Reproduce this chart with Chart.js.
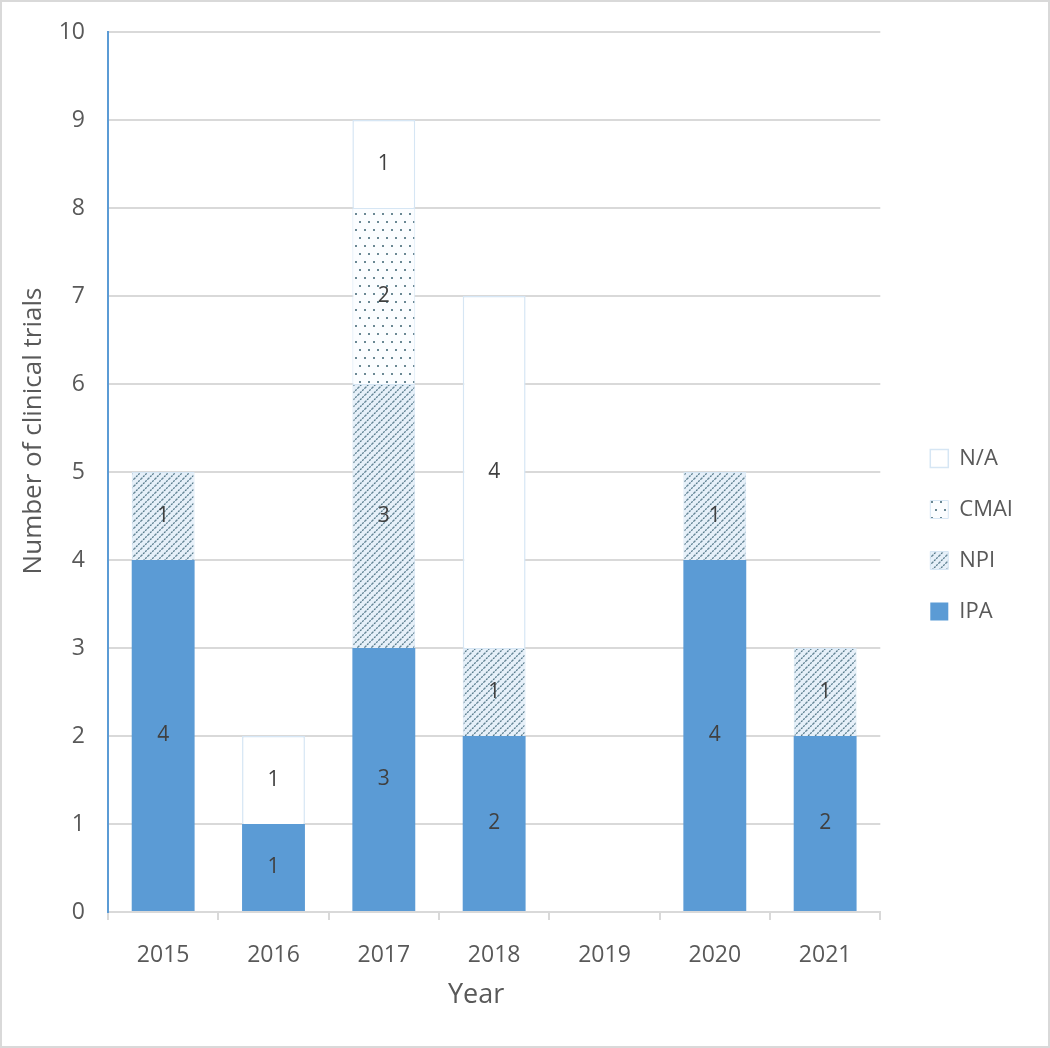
<!DOCTYPE html>
<html>
<head>
<meta charset="utf-8">
<script src="https://cdn.jsdelivr.net/npm/chart.js@4.4.0/dist/chart.umd.min.js"></script>
<style>
  html, body { margin: 0; padding: 0; background: #fff; }
  #wrap { width: 1050px; height: 1048px; box-sizing: border-box; border: 2px solid #d9d9d9; position: relative; }
</style>
</head>
<body>
<div id="wrap"><canvas id="chart"></canvas></div>
<script>
const years = ["2015","2016","2017","2018","2019","2020","2021"];
const ipa  = [4, 1, 3, 2, 0, 4, 2];
const npi  = [1, 0, 3, 1, 0, 1, 1];
const cmai = [0, 0, 2, 0, 0, 0, 0];
const na   = [0, 1, 1, 4, 0, 0, 0];
const xTitle = "Year";
const yTitle = "Number of clinical trials";

const textColor = "#595959";
const fontFamily = "'Open Sans', 'Liberation Sans', sans-serif";

function hatchPattern() {
  const c = document.createElement("canvas");
  c.width = 7; c.height = 7;
  const x = c.getContext("2d");
  x.fillStyle = "#e6f0f9";
  x.fillRect(0, 0, 7, 7);
  x.strokeStyle = "#55798a";
  x.lineWidth = 1.3;
  x.setLineDash([2, 1]);
  x.beginPath();
  x.moveTo(-1, 8); x.lineTo(8, -1);
  x.moveTo(-1, 1); x.lineTo(1, -1);
  x.moveTo(6, 8); x.lineTo(8, 6);
  x.stroke();
  return x.createPattern(c, "repeat");
}

function dotPattern() {
  const c = document.createElement("canvas");
  c.width = 9; c.height = 16;
  const x = c.getContext("2d");
  x.fillStyle = "#fbfdff";
  x.fillRect(0, 0, 9, 16);
  x.fillStyle = "#6a8894";
  x.fillRect(2, 3, 2, 2);
  x.fillRect(6, 11, 2, 2);
  return x.createPattern(c, "repeat");
}

// value labels in the middle of each segment
const segmentLabels = {
  id: "segmentLabels",
  afterDatasetsDraw(chart) {
    const ctx = chart.ctx;
    ctx.save();
    ctx.font = "21px " + fontFamily;
    ctx.fillStyle = "#404040";
    ctx.textAlign = "center";
    ctx.textBaseline = "middle";
    chart.data.datasets.forEach((ds, i) => {
      chart.getDatasetMeta(i).data.forEach((bar, j) => {
        const v = ds.data[j];
        if (!v) return;
        ctx.fillText(String(v), bar.x, (bar.y + bar.base) / 2);
      });
    });
    ctx.restore();
  }
};

// axis titles, placed off-centre like the original
const axisTitles = {
  id: "axisTitles",
  afterDraw(chart) {
    const { ctx, chartArea: a } = chart;
    ctx.save();
    ctx.fillStyle = textColor;
    ctx.textAlign = "center";
    ctx.textBaseline = "middle";
    ctx.font = "27px " + fontFamily;
    ctx.fillText(xTitle, (a.left + a.right) / 2 - 18, a.bottom + 83);
    ctx.font = "26px " + fontFamily;
    ctx.translate(32, (a.top + a.bottom) / 2 - 41);
    ctx.rotate(-Math.PI / 2);
    ctx.fillText(yTitle, 0, 0);
    ctx.restore();
  }
};

Chart.defaults.font.family = fontFamily;
Chart.defaults.color = textColor;

new Chart(document.getElementById("chart"), {
  type: "bar",
  data: {
    labels: years,
    datasets: [
      { label: "IPA", data: ipa, backgroundColor: "#5b9bd5", borderWidth: 0 },
      { label: "NPI", data: npi, backgroundColor: hatchPattern(), borderColor: "#d6e6f4", borderWidth: 1 },
      { label: "CMAI", data: cmai, backgroundColor: dotPattern(), borderColor: "#d6e6f4", borderWidth: 1 },
      { label: "N/A", data: na, backgroundColor: "#ffffff", borderColor: "#d6e6f4", borderWidth: 1.5 }
    ]
  },
  options: {
    responsive: true,
    maintainAspectRatio: false,
    animation: false,
    layout: { padding: { top: 30, right: 25, bottom: 35, left: 17 } },
    datasets: { bar: { categoryPercentage: 1, barPercentage: 0.57 } },
    plugins: {
      legend: {
        position: "right",
        reverse: true,
        title: { display: true, text: " ", padding: 0, font: { size: 22.5 } },
        labels: { boxWidth: 18, boxHeight: 18, padding: 29, font: { size: 22 }, color: textColor }
      },
      tooltip: { enabled: false }
    },
    scales: {
      x: {
        stacked: true,
        grid: { drawOnChartArea: false, color: "#d9d9d9", lineWidth: 2, tickLength: 8 },
        border: { color: "#d9d9d9", width: 2 },
        ticks: { font: { size: 23 }, color: textColor, padding: 22 },
        afterFit: (s) => { s.height = 99; s.paddingLeft = 0; s.paddingRight = 0; }
      },
      y: {
        stacked: true,
        min: 0, max: 10,
        ticks: { stepSize: 1, font: { size: 23 }, color: textColor, padding: 23 },
        grid: { color: "#d9d9d9", lineWidth: 2, drawTicks: false },
        border: { color: "#5b9bd5", width: 2 },
        afterFit: (s) => { s.width = 89; s.paddingTop = 0; s.paddingBottom = 0; }
      },
      gap: {
        position: "right",
        display: true,
        ticks: { display: false },
        grid: { display: false },
        border: { display: false },
        afterFit: (s) => { s.width = 21; s.paddingTop = 0; s.paddingBottom = 0; }
      }
    }
  },
  plugins: [segmentLabels, axisTitles]
});
</script>
</body>
</html>
